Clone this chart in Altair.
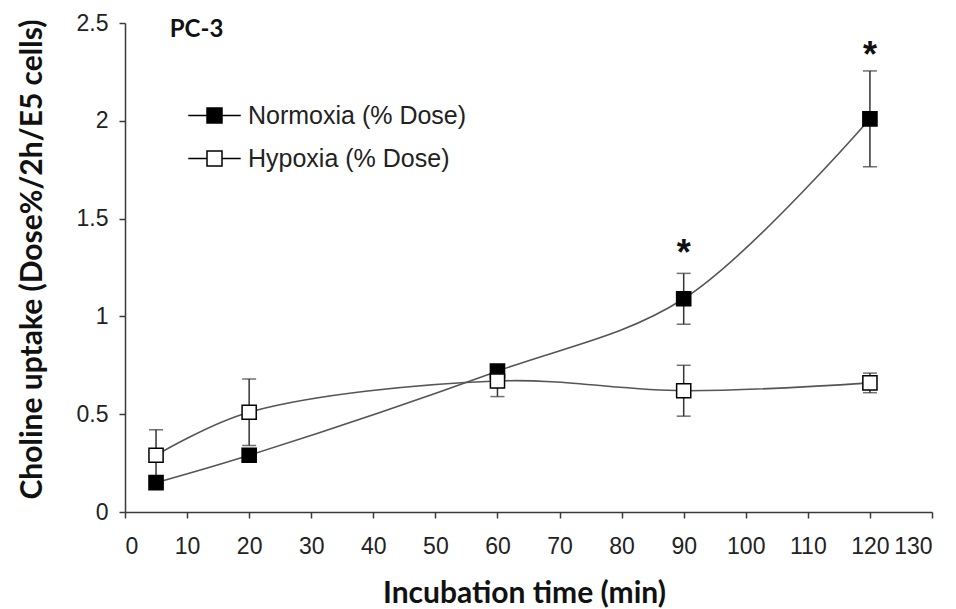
import altair as alt
import pandas as pd

# Incubation times (min) and measured choline uptake (Dose%/2h/E5 cells)
times = [5, 20, 60, 90, 120]
normoxia_mean = [0.15, 0.29, 0.72, 1.09, 2.01]
normoxia_err = [0.02, 0.03, 0.03, 0.13, 0.245]
hypoxia_mean = [0.29, 0.51, 0.67, 0.62, 0.66]
hypoxia_err = [0.13, 0.17, 0.08, 0.13, 0.05]

series_names = ["Normoxia (% Dose)", "Hypoxia (% Dose)"]
series_fill = ["black", "white"]

# significance markers (time, height of the bar they sit on)
sig_times = [90, 120]
sig_heights = [1.22, 2.235]

panel_label = "PC-3"
panel_label_pos = [7.2, 2.465]

x_ticks = list(range(0, 131, 10))
y_ticks = [0, 0.5, 1, 1.5, 2, 2.5]

rows = []
for name, means, errs in [
    (series_names[0], normoxia_mean, normoxia_err),
    (series_names[1], hypoxia_mean, hypoxia_err),
]:
    for t, m, e in zip(times, means, errs):
        rows.append({"series": name, "time": t, "uptake": m,
                     "lo": m - e, "hi": m + e})
df = pd.DataFrame(rows)

sig_df = pd.DataFrame({"time": sig_times, "top": sig_heights, "mark": ["*"] * len(sig_times)})
label_df = pd.DataFrame({"time": [panel_label_pos[0]], "uptake": [panel_label_pos[1]],
                         "text": [panel_label]})

AXIS_COLOR = "#3a3a3a"
TICK_FONT = "Liberation Sans"
TITLE_FONT = "Lato"

x_scale = alt.Scale(domain=[0, 130], nice=False, zero=True)
y_scale = alt.Scale(domain=[0, 2.5], nice=False)

x_axis = alt.Axis(
    values=x_ticks, title="Incubation time (min)", grid=False,
    domainColor=AXIS_COLOR, tickColor=AXIS_COLOR, tickSize=6, domainWidth=1.5, tickWidth=1.5,
    labelFont=TICK_FONT, labelFontSize=23, labelColor="#222", labelPadding=17,
    titleFont=TITLE_FONT, titleFontSize=30, titleFontWeight="bold", titleColor="#111",
    titleX=399, titleY=90, titleBaseline="alphabetic", titleAlign="center",
)
y_axis = alt.Axis(
    values=y_ticks, format="~g", title="Choline uptake (Dose%/2h/E5 cells)", grid=False,
    domainColor=AXIS_COLOR, tickColor=AXIS_COLOR, tickSize=6, domainWidth=1.5, tickWidth=1.5,
    labelFont=TICK_FONT, labelFontSize=23, labelColor="#222", labelPadding=11,
    titleFont=TITLE_FONT, titleFontSize=30, titleFontWeight="bold", titleColor="#111",
    titleX=-93, titleY=236, titleBaseline="middle", titleAlign="center", titleAngle=270,
)

base = alt.Chart(df)

x_enc = alt.X("time:Q", scale=x_scale, axis=x_axis)

error_rules = base.mark_rule(color="#333", strokeWidth=1.5).encode(
    x=x_enc,
    y=alt.Y("lo:Q", scale=y_scale, axis=y_axis),
    y2="hi:Q",
)
cap_lo = base.mark_tick(color="#333", thickness=1.5, size=14, orient="horizontal").encode(
    x="time:Q", y="lo:Q"
)
cap_hi = base.mark_tick(color="#333", thickness=1.5, size=14, orient="horizontal").encode(
    x="time:Q", y="hi:Q"
)

lines = base.mark_line(interpolate="catmull-rom", color="#555", strokeWidth=1.6).encode(
    x="time:Q", y="uptake:Q", detail="series:N"
)

legend_symbol = "M-3.5,0H-1M1,0H3.5M-1,-1H1V1H-1Z"

points = base.mark_point(shape="square", filled=True, size=200, stroke="black",
                         strokeWidth=1.5, opacity=1).encode(
    x="time:Q",
    y="uptake:Q",
    fill=alt.Fill(
        "series:N",
        scale=alt.Scale(domain=series_names, range=series_fill),
        legend=alt.Legend(
            orient="none", legendX=77, legendY=80, title=None, padding=0,
            symbolType=legend_symbol, symbolSize=225, symbolStrokeColor="black",
            symbolStrokeWidth=1.5, symbolOffset=0,
            labelFont=TICK_FONT, labelFontSize=25, labelColor="#222",
            labelOffset=21, rowPadding=17, labelLimit=0,
        ),
    ),
)

stars = alt.Chart(sig_df).mark_text(
    font="Liberation Sans", fontSize=36, fontWeight="bold", baseline="bottom", color="#111"
).encode(x="time:Q", y="top:Q", text="mark:N")

panel = alt.Chart(label_df).mark_text(
    font=TITLE_FONT, fontSize=24, fontWeight="bold", align="left", baseline="middle", color="#111"
).encode(x="time:Q", y="uptake:Q", text="text:N")

chart = alt.layer(error_rules, cap_lo, cap_hi, lines, points, stars, panel).properties(
    width=807, height=489,
    autosize=alt.AutoSizeParams(type="none"),
    padding={"left": 125, "top": 23, "right": 24, "bottom": 97},
    background="white",
).configure_view(stroke=None)

chart.save("out.html", embed_options={"renderer": "svg", "actions": False})
